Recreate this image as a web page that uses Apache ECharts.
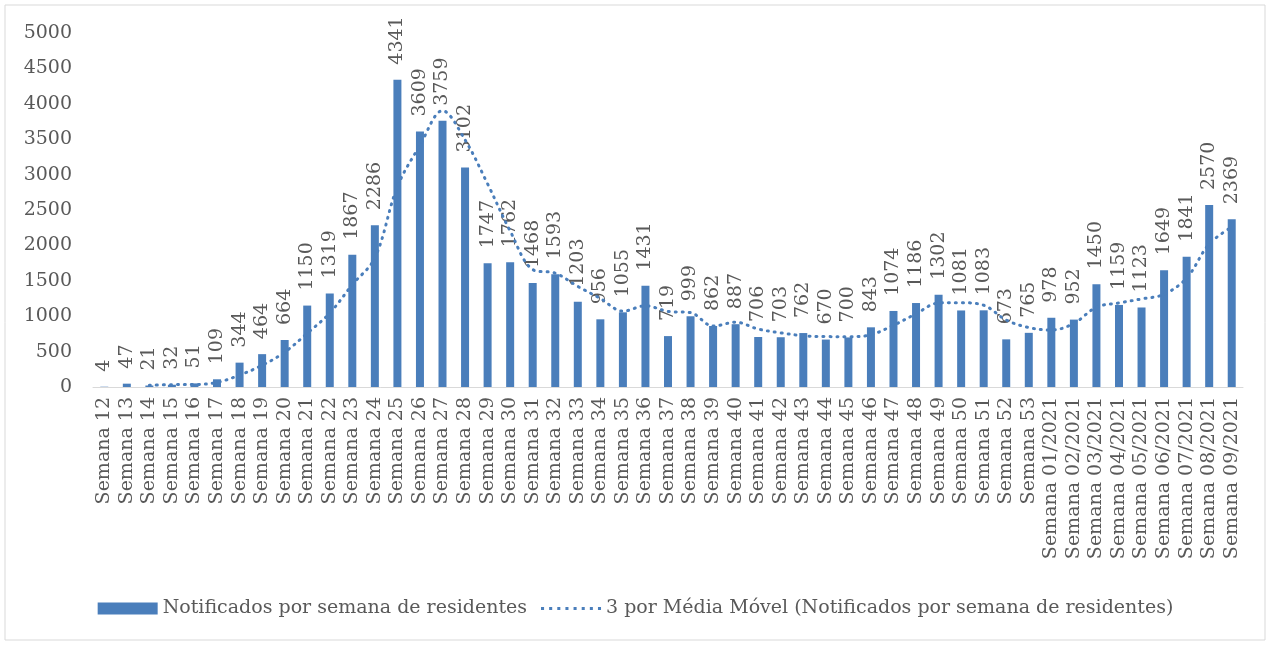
<!DOCTYPE html>
<html>
<head>
<meta charset="utf-8">
<script src="https://cdn.jsdelivr.net/npm/echarts@6/dist/echarts.min.js"></script>
<style>
  html, body { margin: 0; padding: 0; background: #fff; }
  #chart { width: 1271px; height: 646px; }
</style>
</head>
<body>
<div id="chart"></div>
<script>
// semanas epidemiológicas
const categories = [
  "Semana 12", "Semana 13", "Semana 14", "Semana 15", "Semana 16", "Semana 17",
  "Semana 18", "Semana 19", "Semana 20", "Semana 21", "Semana 22", "Semana 23",
  "Semana 24", "Semana 25", "Semana 26", "Semana 27", "Semana 28", "Semana 29",
  "Semana 30", "Semana 31", "Semana 32", "Semana 33", "Semana 34", "Semana 35",
  "Semana 36", "Semana 37", "Semana 38", "Semana 39", "Semana 40", "Semana 41",
  "Semana 42", "Semana 43", "Semana 44", "Semana 45", "Semana 46", "Semana 47",
  "Semana 48", "Semana 49", "Semana 50", "Semana 51", "Semana 52", "Semana 53",
  "Semana 01/2021", "Semana 02/2021", "Semana 03/2021", "Semana 04/2021",
  "Semana 05/2021", "Semana 06/2021", "Semana 07/2021", "Semana 08/2021",
  "Semana 09/2021"
];

// notificados por semana
const notified = [
  4, 47, 21, 32, 51, 109, 344, 464, 664, 1150, 1319, 1867, 2286, 4341, 3609,
  3759, 3102, 1747, 1762, 1468, 1593, 1203, 956, 1055, 1431, 719, 999, 862,
  887, 706, 703, 762, 670, 700, 843, 1074, 1186, 1302, 1081, 1083, 673, 765,
  978, 952, 1450, 1159, 1123, 1649, 1841, 2570, 2369
];

// média móvel de 3 períodos (linha pontilhada)
const movingAvg = [
  null, null, 24, 33, 35, 64, 168, 306, 491, 759, 1044, 1445, 1824, 2831, 3412,
  3903, 3490, 2869, 2204, 1659, 1608, 1421, 1251, 1071, 1147, 1068, 1050, 860,
  916, 818, 765, 724, 712, 711, 738, 872, 1034, 1187, 1190, 1155, 946, 840,
  805, 898, 1127, 1187, 1244, 1310, 1538, 2020, 2260
];

const barColor = "#4a7ebb";
const textColor = "#595959";
const font = "DejaVu Serif";

// ícone da legenda: linha pontilhada
const dottedIcon =
  "path://M0,0h3v3h-3z M8,0h3v3h-3z M16,0h3v3h-3z M24,0h3v3h-3z " +
  "M32,0h3v3h-3z M40,0h3v3h-3z M48,0h3v3h-3z M56,0h3v3h-3z";

const chart = echarts.init(document.getElementById("chart"));
chart.setOption({
  animation: false,
  backgroundColor: "#fff",
  textStyle: { fontFamily: font, color: textColor },
  graphic: [
    {
      type: "rect",
      shape: { x: 5, y: 5, width: 1260, height: 635 },
      style: { fill: "none", stroke: "#d9d9d9", lineWidth: 1 },
      silent: true,
    },
  ],
  grid: { left: 93, right: 28, top: 33, bottom: 259 },
  legend: {
    bottom: 23,
    left: "center",
    itemWidth: 60,
    itemHeight: 12,
    itemGap: 14,
    textStyle: { fontFamily: font, fontSize: 19, color: textColor },
    data: [
      { name: "Notificados por semana de residentes", icon: "rect" },
      {
        name: "3 por Média Móvel (Notificados por semana de residentes)",
        icon: dottedIcon,
      },
    ],
  },
  xAxis: {
    type: "category",
    data: categories,
    axisLine: { lineStyle: { color: "#d9d9d9", width: 1 } },
    axisTick: { show: false },
    axisLabel: {
      interval: 0,
      rotate: 90,
      margin: 10,
      fontFamily: font,
      fontSize: 19,
      color: textColor,
    },
  },
  yAxis: {
    type: "value",
    min: 0,
    max: 5000,
    interval: 500,
    axisLine: { show: false },
    axisTick: { show: false },
    splitLine: { show: false },
    axisLabel: {
      margin: 21,
      fontFamily: font,
      fontSize: 19,
      color: textColor,
      formatter: (v) => String(v),
    },
  },
  series: [
    {
      name: "Notificados por semana de residentes",
      type: "bar",
      data: notified,
      barWidth: 8,
      itemStyle: { color: barColor },
      label: {
        show: true,
        position: "top",
        rotate: 90,
        align: "left",
        verticalAlign: "middle",
        distance: 15,
        fontFamily: font,
        fontSize: 19,
        color: textColor,
      },
    },
    {
      name: "3 por Média Móvel (Notificados por semana de residentes)",
      type: "line",
      data: movingAvg,
      smooth: 0.35,
      showSymbol: false,
      symbol: "none",
      z: 3,
      itemStyle: { color: barColor },
      lineStyle: { color: barColor, width: 3, type: [1, 6], cap: "round" },
    },
  ],
});
</script>
</body>
</html>
